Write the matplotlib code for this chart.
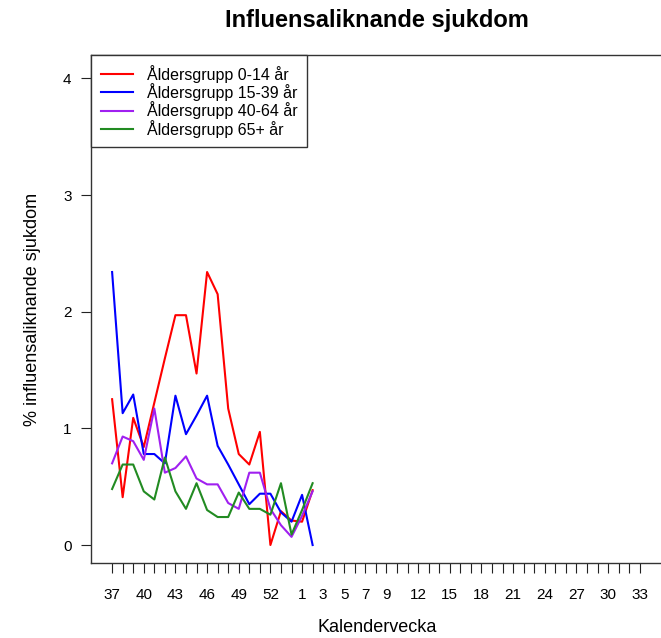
import matplotlib
matplotlib.use("Agg")
import matplotlib.pyplot as plt

plt.rcParams['font.family'] = ['Liberation Sans', 'DejaVu Sans']

# week axis: 37..52, two extra (unlabelled) weeks, then 1..33
week_labels = [str(w) for w in range(37, 53)] + ["", ""] + [str(w) for w in range(1, 34)]
shown_labels = ["37", "40", "43", "46", "49", "52", "1", "3", "5", "7", "9",
                "12", "15", "18", "21", "24", "27", "30", "33"]

series_names = ["Åldersgrupp 0-14 år", "Åldersgrupp 15-39 år",
                "Åldersgrupp 40-64 år", "Åldersgrupp 65+ år"]
age_0_14 = [1.25, 0.41, 1.09, 0.84, 1.22, 1.60, 1.97, 1.97, 1.47, 2.34,
            2.15, 1.17, 0.78, 0.69, 0.97, 0.00, 0.29, 0.21, 0.20, 0.47]
age_15_39 = [2.34, 1.13, 1.29, 0.78, 0.78, 0.70, 1.28, 0.95, 1.11, 1.28,
             0.85, 0.69, 0.52, 0.35, 0.44, 0.44, 0.28, 0.20, 0.43, 0.00]
age_40_64 = [0.70, 0.93, 0.89, 0.73, 1.17, 0.62, 0.66, 0.76, 0.57, 0.52,
             0.52, 0.36, 0.31, 0.62, 0.62, 0.31, 0.17, 0.07, 0.25, 0.46]
age_65 = [0.48, 0.69, 0.69, 0.46, 0.39, 0.75, 0.46, 0.31, 0.53, 0.30,
          0.24, 0.24, 0.45, 0.31, 0.31, 0.26, 0.53, 0.09, 0.30, 0.53]
colors = ["#FF0000", "#0000FF", "#A020F0", "#228B22"]

fig = plt.figure(figsize=(6.61, 6.38), dpi=100)
# plot region runs off the right edge of the image, like the original
ax = fig.add_axes([91/661, 75/638, 572/661, 508/638])

x = list(range(len(age_0_14)))
for vals, name, c in zip([age_0_14, age_15_39, age_40_64, age_65], series_names, colors):
    ax.plot(x, vals, color=c, lw=1.5, label=name)

ax.set_xlim(-2, 52.2)
ax.set_ylim(-0.154, 4.2)

ax.set_xticks(range(len(week_labels)))
ax.set_xticklabels([w if w in shown_labels else "" for w in week_labels])
ax.set_yticks([0, 1, 2, 3, 4])
ax.tick_params(axis='x', length=7, width=0.8, pad=11, labelsize=11, color='#222222')
ax.tick_params(axis='y', length=7, width=0.8, pad=7, labelsize=11, color='#222222')

for s in ax.spines.values():
    s.set_linewidth(1.0)
    s.set_color('#333333')

ax.set_xlabel("Kalendervecka", fontsize=13, labelpad=12)
ax.set_ylabel("% influensaliknande sjukdom", fontsize=13, labelpad=16)
fig.text(377/661, 1 - 20/638, "Influensaliknande sjukdom", fontsize=17,
         fontweight='bold', ha='center', va='center')

leg = ax.legend(loc='upper left', bbox_to_anchor=(0, 1), borderaxespad=0,
                fancybox=False, framealpha=1, edgecolor='#333333', fontsize=11.5,
                handlelength=2.0, handletextpad=0.9, labelspacing=0.03,
                borderpad=0.6)
leg.get_frame().set_linewidth(1.0)

fig.savefig("out.png", dpi=100)
